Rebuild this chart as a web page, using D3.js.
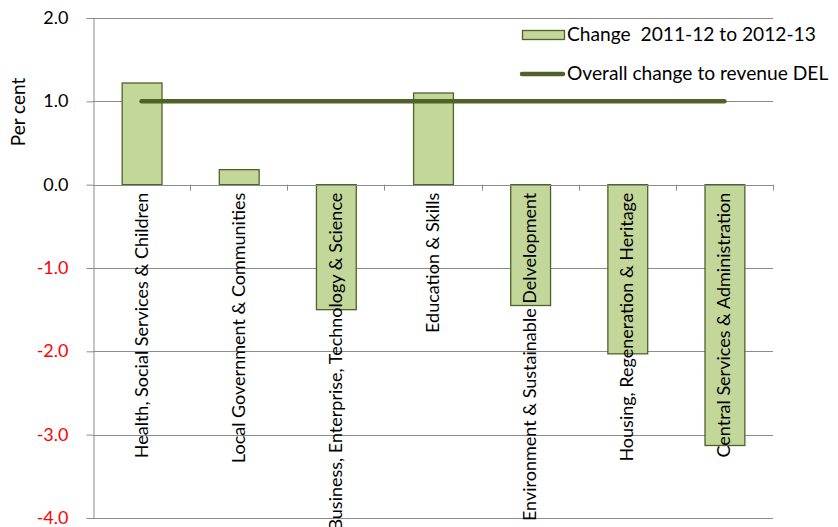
<!DOCTYPE html>
<html><head><meta charset="utf-8">
<script src="https://cdn.jsdelivr.net/npm/d3@7"></script>
<style>body{margin:0;background:#fff}svg{display:block;font-family:Lato,"Open Sans",sans-serif}</style>
</head><body>
<script>
const categories = ["Health, Social Services & Children","Local Government & Communities","Business, Enterprise, Technology & Science","Education & Skills","Environment & Sustainable Delvelopment","Housing, Regeneration & Heritage","Central Services & Administration"];
const changeValues = [1.22, 0.18, -1.50, 1.10, -1.45, -2.03, -3.13];
const overallChange = [1.0, 1.0, 1.0, 1.0, 1.0, 1.0, 1.0];
const yTicks = [-4, -3, -2, -1, 0, 1, 2];
const seriesNames = ["Change  2011-12 to 2012-13", "Overall change to revenue DEL"];

const W = 838, H = 527;
const m = {left: 93, right: 65, top: 18, bottom: 9};
const svg = d3.select("body").append("svg").attr("width", W).attr("height", H);
const x = d3.scaleBand().domain(categories).range([m.left, W - m.right]).paddingInner(0.59).paddingOuter(0.295);
const y = d3.scaleLinear().domain([-4, 2]).range([H - m.bottom, m.top]);
const gray = "#8c8c8c", barFill = "#c4d79b", dark = "#4f6228";

// gridlines
svg.append("g").selectAll("line").data(yTicks).join("line")
  .attr("x1", m.left).attr("x2", W - m.right)
  .attr("y1", d => Math.round(y(d)) + 0.5).attr("y2", d => Math.round(y(d)) + 0.5)
  .attr("stroke", gray).attr("stroke-width", 1);

// y axis
const fmt = d => d3.format(".1f")(d).replace("\u2212", "-");
const yAxis = svg.append("g").attr("transform", `translate(${m.left + 0.5},0)`)
  .call(d3.axisLeft(y).tickValues(yTicks).tickFormat(fmt).tickSize(7).tickSizeOuter(0));
yAxis.select(".domain").attr("stroke", gray);
yAxis.selectAll(".tick line").attr("stroke", gray);
yAxis.selectAll(".tick text").attr("font-size", 18).attr("font-family", "Lato, sans-serif")
  .attr("x", -25).attr("dy", "0.3em").attr("fill", d => d < 0 ? "#ff0000" : "#000");

svg.append("text").attr("transform", `translate(25,112) rotate(-90)`)
  .attr("text-anchor", "middle").attr("font-size", 19).text("Per cent");

// bars
svg.append("g").selectAll("rect").data(changeValues).join("rect")
  .attr("x", (d, i) => x(categories[i]) + 0.5)
  .attr("y", d => y(Math.max(0, d)))
  .attr("width", x.bandwidth())
  .attr("height", d => Math.abs(y(d) - y(0)))
  .attr("fill", barFill).attr("stroke", dark).attr("stroke-width", 1.3);

// zero axis line and category ticks
const step = x.step();
const bounds = d3.range(categories.length + 1).map(i => m.left + i * step);
svg.append("line").attr("x1", m.left).attr("x2", W - m.right)
  .attr("y1", Math.round(y(0)) + 0.5).attr("y2", Math.round(y(0)) + 0.5).attr("stroke", gray);
svg.append("g").selectAll("line").data(bounds.slice(1)).join("line")
  .attr("x1", d => Math.round(d) + 0.5).attr("x2", d => Math.round(d) + 0.5)
  .attr("y1", y(0)).attr("y2", y(0) + 6).attr("stroke", gray);

// category labels
svg.append("g").selectAll("text").data(categories).join("text")
  .attr("transform", d => `translate(${x(d) + x.bandwidth() / 2 + 6},${y(0) + 8}) rotate(-90)`)
  .attr("text-anchor", "end").attr("font-size", 18).text(d => d);

// overall line
const line = d3.line().x((d, i) => x(categories[i]) + x.bandwidth() / 2).y(d => y(d));
svg.append("path").datum(overallChange).attr("d", line)
  .attr("fill", "none").attr("stroke", dark).attr("stroke-width", 4.5).attr("stroke-linecap", "round");

// legend
const lg = svg.append("g");
lg.append("rect").attr("x", 522.5).attr("y", 30.5).attr("width", 42).attr("height", 9)
  .attr("fill", barFill).attr("stroke", dark).attr("stroke-width", 1.3);
lg.append("text").attr("x", 567).attr("y", 41).attr("font-size", 19.2).attr("xml:space", "preserve").text(seriesNames[0]);
lg.append("line").attr("x1", 522).attr("x2", 563).attr("y1", 74).attr("y2", 74)
  .attr("stroke", dark).attr("stroke-width", 4.5).attr("stroke-linecap", "round");
lg.append("text").attr("x", 567).attr("y", 80).attr("font-size", 19.2).text(seriesNames[1]);
</script>
</body></html>
